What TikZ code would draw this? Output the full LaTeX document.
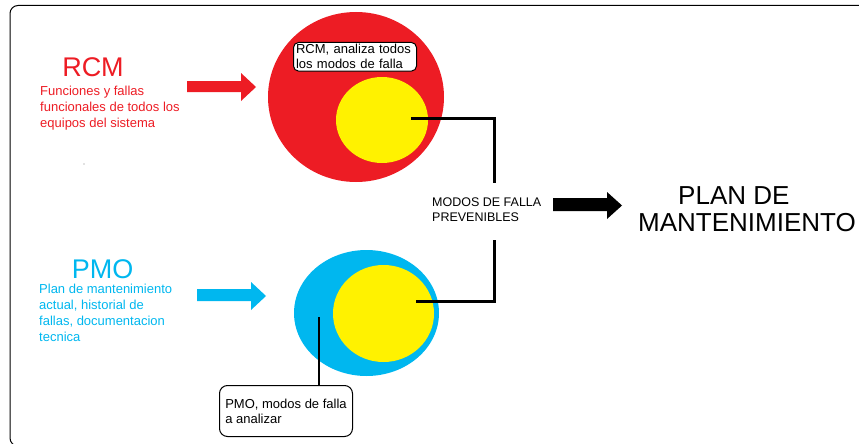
\documentclass[tikz,border=0pt]{standalone}
\usepackage{fontspec}
\setmainfont{Liberation Sans}
\usetikzlibrary{shapes.geometric}
\definecolor{rcmred}{HTML}{ED1C24}
\definecolor{pmoblue}{HTML}{00B7EF}
\definecolor{setyellow}{HTML}{FFF200}
\begin{document}
\begin{tikzpicture}[x=1pt,y=-1pt,
  lbl/.style={inner sep=0pt, align=left, anchor=north west},
  small/.style={font=\fontsize{13}{16}\selectfont},
  big/.style={font=\fontsize{27}{27}\selectfont, inner sep=0pt, anchor=base},
  blob/.style={ellipse, inner sep=0pt},
  callout/.style={draw=black, line width=1pt, fill=white, align=left,
    anchor=north west, font=\fontsize{13}{15}\selectfont},
  wire/.style={line width=3pt},
  leader/.style={line width=2.5pt}]
\useasboundingbox (0,0) rectangle (859,444);
\clip (0,0) rectangle (859,444);

% outer frame
\draw[line width=1pt, rounded corners=8pt] (10,5.5) rectangle (880,446);

% ---------- RCM input ----------
\node[big, text=rcmred] (rcm) at (93,77) {RCM};
\node[lbl, small, text=rcmred] (rcmtxt) at (40,86)
  {Funciones y fallas\\funcionales de todos los\\equipos del sistema};
\fill[gray] (84,164) circle (0.7);
\fill[rcmred] (187,81) -- (241,81) -- (241,73) -- (256,87) -- (241,101)
  -- (241,92) -- (187,92) -- cycle;

\node[blob, fill=rcmred, minimum width=176pt, minimum height=170pt] (rcmset) at (356,97) {};
\node[blob, fill=setyellow, minimum width=92pt, minimum height=86pt] (rcmprev) at (382,120) {};
\node[callout, rounded corners=5pt, text width=118pt, inner xsep=2.5pt, inner ysep=2pt]
  (rcmnote) at (293,42) {RCM, analiza todos\\los modos de falla};

% ---------- PMO input ----------
\node[big, text=pmoblue] (pmo) at (102.5,278) {PMO};
\node[lbl, small, text=pmoblue] (pmotxt) at (39,283.5)
  {Plan de mantenimiento\\actual, historial de\\fallas, documentacion\\tecnica};
\fill[pmoblue] (197,289) -- (251,289) -- (251,282) -- (266,296) -- (251,310)
  -- (251,301) -- (197,301) -- cycle;

\node[blob, fill=pmoblue, minimum width=145pt, minimum height=126pt] (pmoset) at (366.5,313) {};
\node[blob, fill=setyellow, minimum width=101pt, minimum height=97pt] (pmoprev) at (383.5,313.5) {};
\node[callout, rounded corners=8pt, inner xsep=4pt, minimum width=133pt, minimum height=51pt]
  (pmonote) at (219,385) {PMO, modos de falla\\a analizar};
\coordinate (pmoTap) at (319,317);
\draw[leader] (pmoTap) -- (pmoTap |- pmonote.north);

% ---------- preventable failure modes ----------
\node[lbl, font=\fontsize{12.5}{15}\selectfont] (modos) at (432,198)
  {MODOS DE FALLA\\PREVENIBLES};
\coordinate (rcmTap) at (411,118.5);
\coordinate (jTop) at (494,183);
\coordinate (pmoTap2) at (416,301);
\coordinate (jBot) at (494,240);
\draw[wire] (rcmTap) -| (jTop);
\draw[wire] (pmoTap2) -| (jBot);

\fill[black] (553,198) -- (607,198) -- (607,192) -- (622,205.5) -- (607,219)
  -- (607,211) -- (553,211) -- cycle;

\node[lbl, font=\fontsize{26}{27}\selectfont] (plan) at (638,186.5)
  {\hspace*{40pt}PLAN DE\\MANTENIMIENTO};
\end{tikzpicture}
\end{document}
